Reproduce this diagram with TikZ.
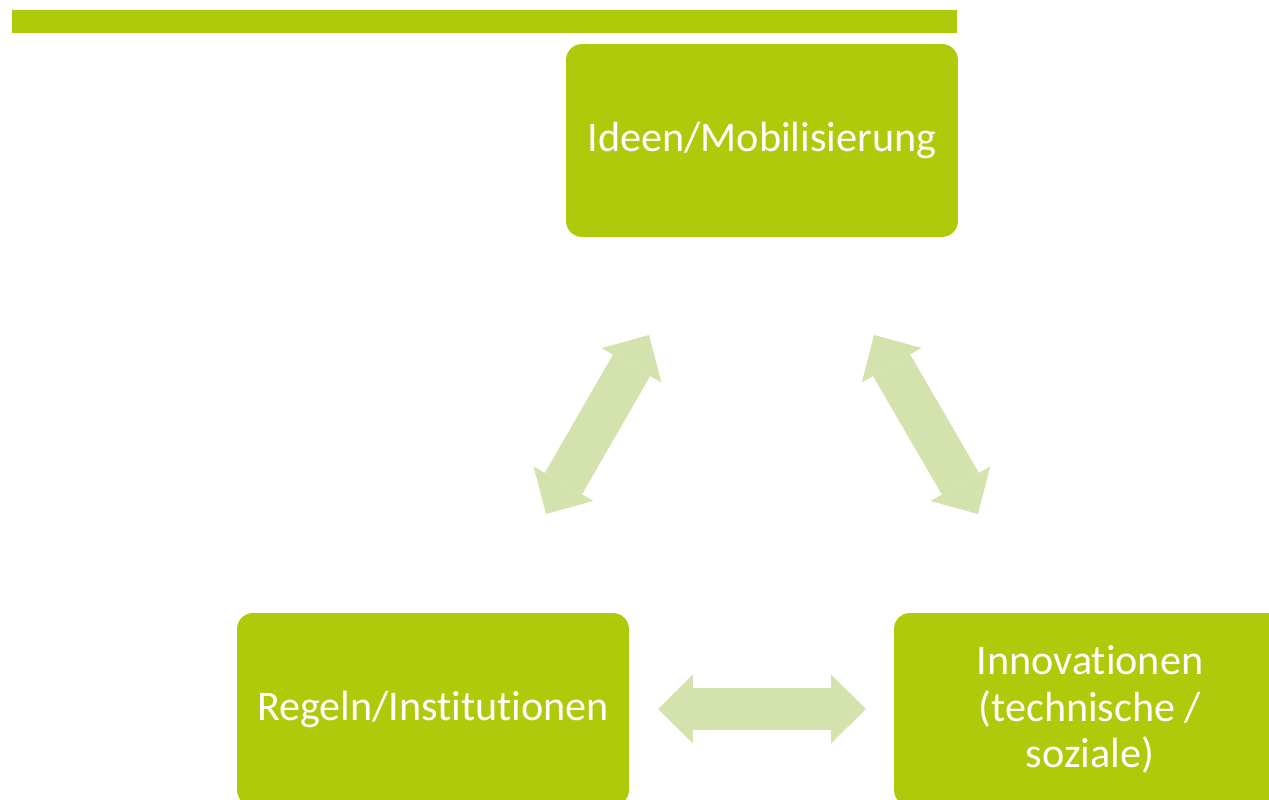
\documentclass[tikz,border=0pt]{standalone}
\usepackage{fontspec}
\setmainfont[Ligatures=NoCommon]{Carlito}
\usetikzlibrary{arrows.meta}
\definecolor{boxgreen}{RGB}{175,202,11}
\definecolor{arrowgreen}{RGB}{212,226,173}

\begin{document}
\begin{tikzpicture}[x=0.02cm,y=-0.02cm]
\tikzstyle{box}=[rectangle, rounded corners=0.32cm, fill=boxgreen, text=white, minimum width=7.84cm, minimum height=3.86cm, inner sep=0pt, align=center, font=\fontsize{24}{26.5}\selectfont]
\tikzstyle{twoway}=[arrowgreen, line width=0.86cm, {Triangle[width=1.38cm,length=0.7cm,line width=0pt]}-{Triangle[width=1.38cm,length=0.7cm,line width=0pt]}]
\useasboundingbox (0,0) rectangle (1269,800);
\clip (0,0) rectangle (1269,800);
\fill[boxgreen] (12,10) rectangle (957,33);
\draw (762,140.5) node (ideen) [box] {Ideen/Mobilisierung};
\draw (433,709.5) node (regeln) [box] {Regeln/Institutionen};
\draw (1090,709.5) node (innov) [box] {Innovationen\\(technische /\\soziale)};
\coordinate (l1) at (546,514);
\coordinate (l2) at (649,335);
\coordinate (r1) at (874,335);
\coordinate (r2) at (978,514);
\coordinate (h1) at (658,709);
\coordinate (h2) at (866,709);
\draw[twoway] (l1) -- (l2);
\draw[twoway] (r1) -- (r2);
\draw[twoway] (h1) -- (h2);
\end{tikzpicture}
\end{document}
